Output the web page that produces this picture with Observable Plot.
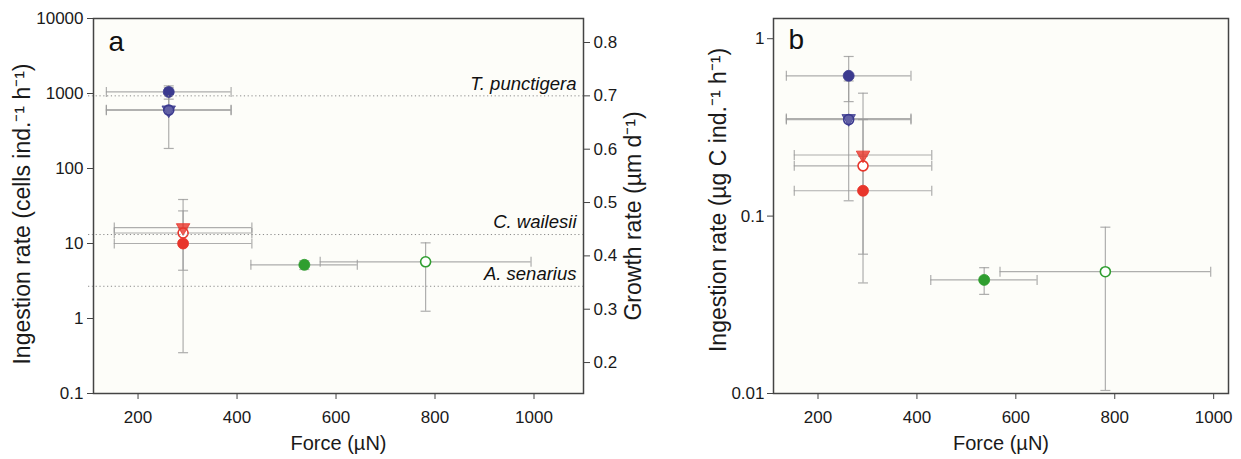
<!DOCTYPE html>
<html><head><meta charset="utf-8">
<script src="https://cdn.jsdelivr.net/npm/d3@7"></script>
<script src="https://cdn.jsdelivr.net/npm/@observablehq/plot@0.6"></script>
<style>
body{margin:0;background:#ffffff;}
#wrap{position:relative;width:1241px;height:459px;font-family:"Liberation Sans",Arial,Helvetica,sans-serif;}
#wrap svg{position:absolute;top:0;overflow:visible;}
</style></head><body><div id="wrap"></div>
<script>
// ---------- data ----------
const groups      = ["T. punctigera","T. punctigera","T. punctigera","C. wailesii","C. wailesii","C. wailesii","A. senarius","A. senarius"];
const treatments  = ["filled","open","triangle","filled","open","triangle","filled","open"];
const force       = [262, 262, 262, 291, 291, 291, 536, 781];
const forceLo     = [136, 136, 136, 152, 152, 152, 428, 568];
const forceHi     = [388, 388, 388, 430, 430, 430, 643, 994];
// panel a: ingestion rate (cells ind-1 h-1)
const ingCells    = [1050, 600, 605, 10, 13.8, 16.3, 5.2, 5.7];
const ingCellsLo  = [840, 185, 605, 4.4, 0.35, 16.3, 4.5, 1.25];
const ingCellsHi  = [1265, 1015, 1200, 15.6, 27.2, 38.6, 5.9, 10.2];
// panel b: ingestion rate (ug C ind-1 h-1)
const ingC        = [0.618, 0.35, 0.355, 0.139, 0.192, 0.221, 0.0437, 0.0486];
const ingCLo      = [0.442, 0.122, 0.355, 0.061, 0.042, 0.221, 0.0362, 0.0104];
const ingCHi      = [0.794, 0.578, 0.355, 0.217, 0.35, 0.493, 0.0512, 0.0866];
// growth rates of prey (right axis, panel a)
const growthSpecies = ["T. punctigera","C. wailesii","A. senarius"];
const growthRate    = [0.70, 0.44, 0.343];
// ticks
const forceTicks  = [200, 400, 600, 800, 1000];
const cellTicks   = [0.1, 1, 10, 100, 1000, 10000];
const carbonTicks = [0.01, 0.1, 1];
const growthTicks = [0.2, 0.3, 0.4, 0.5, 0.6, 0.7, 0.8];
const groupColors = ["#3b3a8f", "#e8352b", "#2f9e2f"];
const groupNames  = ["T. punctigera","C. wailesii","A. senarius"];

// ---------- helpers ----------
const FONT = "'Liberation Sans', Arial, Helvetica, sans-serif";
const hCap = {draw(ctx, size){ const r = Math.sqrt(size/Math.PI); ctx.moveTo(-r,0); ctx.lineTo(r,0); }};
const vCap = {draw(ctx, size){ const r = Math.sqrt(size/Math.PI); ctx.moveTo(0,-r); ctx.lineTo(0,r); }};
const BAR = "#9a9a9a";

function rowsFor(v, lo, hi){
  return groups.map((g,i)=>({group:g, treat:treatments[i], force:force[i], fLo:forceLo[i], fHi:forceHi[i], v:v[i], lo:lo[i], hi:hi[i]}));
}
function dataMarks(rows){
  const vb = rows.filter(d=>d.hi>d.lo);
  const vcaps = rows.flatMap(d=>[d.lo!==d.v?{x:d.force,y:d.lo}:null, d.hi!==d.v?{x:d.force,y:d.hi}:null].filter(Boolean));
  const hcaps = rows.flatMap(d=>[{x:d.fLo,y:d.v},{x:d.fHi,y:d.v}]);
  return [
    Plot.ruleY(rows, {y:"v", x1:"fLo", x2:"fHi", stroke:BAR, strokeWidth:1.2, strokeOpacity:0.8}),
    Plot.dot(hcaps, {x:"x", y:"y", r:5, symbol:vCap, stroke:BAR, strokeWidth:1.2, strokeOpacity:0.8}),
    Plot.ruleX(vb, {x:"force", y1:"lo", y2:"hi", stroke:BAR, strokeWidth:1.2, strokeOpacity:0.8}),
    Plot.dot(vcaps, {x:"x", y:"y", r:5, symbol:hCap, stroke:BAR, strokeWidth:1.2, strokeOpacity:0.8}),
    Plot.dot(rows.filter(d=>d.treat==="open"), {x:"force", y:"v", r:5, fill:"white", stroke:"group", strokeWidth:1.6}),
    Plot.dot(rows.filter(d=>d.treat==="triangle"), {x:"force", y:"v", r:5, symbol:"triangle", rotate:180, fill:"group", stroke:"group", strokeWidth:0.8, fillOpacity:0.8}),
    Plot.dot(rows.filter(d=>d.treat==="filled"), {x:"force", y:"v", r:5.5, fill:"group", stroke:"group", strokeWidth:0.8})
  ];
}
const baseStyle = {fontFamily:FONT, fontSize:"17px", color:"#1a1a1a", background:"transparent", overflow:"visible"};
const wrap = document.getElementById("wrap");

// ---------- panel a ----------
const rowsA = rowsFor(ingCells, ingCellsLo, ingCellsHi);
const panelA = Plot.plot({
  width:660, height:459, marginLeft:93, marginRight:77, marginTop:18, marginBottom:66,
  style:baseStyle,
  x:{domain:[110,1100]},
  y:{type:"log", domain:[0.1,10000]},
  color:{domain:groupNames, range:groupColors},
  marks:[
    Plot.frame({fill:"#fdfdf9"}),
    Plot.axisX({ticks:forceTicks, tickFormat:d=>String(d), tickSize:6, tickPadding:11, label:null, stroke:"#444", fontSize:17}),
    Plot.axisY({ticks:cellTicks, tickFormat:d=>String(d), tickSize:6, tickPadding:4, label:null, stroke:"#444", fontSize:17}),
    ...dataMarks(rowsA),
    Plot.frame({stroke:"#444", strokeWidth:1.5}),
    Plot.text(["Force (µN)"], {frameAnchor:"bottom", dy:56, fontSize:20, fill:"#1a1a1a"}),
    Plot.text(["Ingestion rate (cells ind.\u207B\u00B9 h\u207B\u00B9)"], {frameAnchor:"left", textAnchor:"middle", dx:-71, dy:8, rotate:-90, fontSize:23, fill:"#1a1a1a"}),
    Plot.text(["a"], {frameAnchor:"top-left", dx:15, dy:13, lineAnchor:"top", textAnchor:"start", fontSize:28, fill:"#111"})
  ]
});
panelA.style.left = "0px";
wrap.appendChild(panelA);

// right axis overlay (growth rate)
const growthRows = growthSpecies.map((s,i)=>({species:s, g:growthRate[i]}));
const panelA2 = Plot.plot({
  width:660, height:459, marginLeft:93, marginRight:77, marginTop:18, marginBottom:66,
  style:baseStyle,
  x:{domain:[110,1100], axis:null},
  y:{domain:[0.142,0.845], axis:null},
  marks:[
    Plot.ruleY(growthRows, {y:"g", x1:100, x2:1100, stroke:"#8a8a8a", strokeWidth:1, strokeDasharray:"1.2,2.6"}),
    Plot.text(growthRows, {y:"g", text:"species", frameAnchor:"right", textAnchor:"end", dx:-7, dy:-12, fontSize:18.5, fontStyle:"italic", fill:"#111"}),
    Plot.axisY({anchor:"right", ticks:growthTicks, tickFormat:d3.format(".1f"), tickSize:6, tickPadding:4, label:null, stroke:"#444", fontSize:17}),
    Plot.text(["Growth rate (µm d\u207B\u00B9)"], {frameAnchor:"right", textAnchor:"middle", dx:50, dy:10, rotate:-90, fontSize:23, fill:"#1a1a1a"})
  ]
});
panelA2.style.left = "0px";
wrap.appendChild(panelA2);

// ---------- panel b ----------
const rowsB = rowsFor(ingC, ingCLo, ingCHi);
const panelB = Plot.plot({
  width:581, height:459, marginLeft:113, marginRight:13, marginTop:18, marginBottom:66,
  style:baseStyle,
  x:{domain:[110,1030]},
  y:{type:"log", domain:[0.01,1.3]},
  color:{domain:groupNames, range:groupColors},
  marks:[
    Plot.frame({fill:"#fdfdf9"}),
    Plot.axisX({ticks:forceTicks, tickFormat:d=>String(d), tickSize:6, tickPadding:11, label:null, stroke:"#444", fontSize:17}),
    Plot.axisY({ticks:carbonTicks, tickFormat:d=>String(d), tickSize:6, tickPadding:3, label:null, stroke:"#444", fontSize:17}),
    ...dataMarks(rowsB),
    Plot.frame({stroke:"#444", strokeWidth:1.5}),
    Plot.text(["Force (µN)"], {frameAnchor:"bottom", dy:56, fontSize:20, fill:"#1a1a1a"}),
    Plot.text(["Ingestion rate (µg C ind.\u207B\u00B9 h\u207B\u00B9)"], {frameAnchor:"left", textAnchor:"middle", dx:-55, dy:-6, rotate:-90, fontSize:23, fill:"#1a1a1a"}),
    Plot.text(["b"], {frameAnchor:"top-left", dx:15, dy:11, lineAnchor:"top", textAnchor:"start", fontSize:28, fill:"#111"})
  ]
});
panelB.style.left = "660px";
wrap.appendChild(panelB);
</script>
</body></html>
